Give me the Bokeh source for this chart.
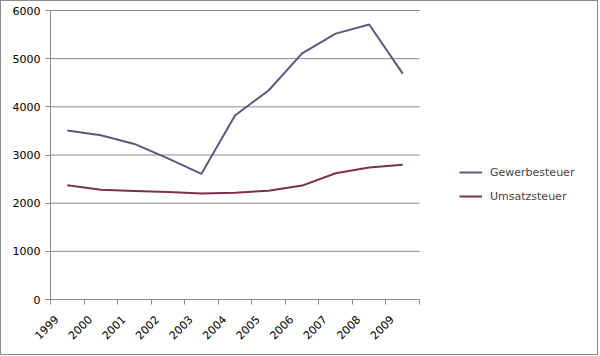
import math
from bokeh.plotting import figure
from bokeh.models import FixedTicker, CustomJSTickFormatter, Legend, LegendItem, Range1d
from bokeh.embed import file_html
from bokeh.resources import INLINE

years = ["1999", "2000", "2001", "2002", "2003", "2004", "2005", "2006", "2007", "2008", "2009"]
gewerbesteuer = [3510, 3410, 3230, 2930, 2610, 3820, 4340, 5110, 5520, 5710, 4690]
umsatzsteuer = [2370, 2280, 2255, 2230, 2200, 2215, 2260, 2365, 2620, 2740, 2800]
y_ticks = [0, 1000, 2000, 3000, 4000, 5000, 6000]

GRID = "#8a8a8a"
FONT = "DejaVu Sans"

n = len(years)
xs = list(range(n))

# plot frame spans the full width; the data area uses the left part (like Excel's plot area)
W, H = 598, 355
left, top, bottom = 49, 7, 57
data_px = 369.0                     # width of the category area in pixels
frame_w = W - left
x_end = -0.5 + n * frame_w / data_px
y_top = 6000 + 2 * 6000 / 289.0     # 2px headroom so the top grid line is not clipped

p = figure(width=W, height=H, output_backend="svg", toolbar_location=None,
           x_range=Range1d(-0.5, x_end), y_range=Range1d(0, y_top),
           min_border_left=left, min_border_top=top, min_border_bottom=bottom, min_border_right=0)
p.outline_line_color = None
p.background_fill_color = "white"
p.border_fill_color = "white"
p.styles = {"border": "1px solid #8a8a8a"}

# horizontal grid lines limited to the category area
grid_y = [v for v in y_ticks if v > 0]
p.segment(x0=[-0.5] * len(grid_y), x1=[n - 0.5] * len(grid_y), y0=grid_y, y1=grid_y,
          line_color=GRID, line_width=1)

r1 = p.line(xs, gewerbesteuer, line_color="#5a5a7e", line_width=2)
r2 = p.line(xs, umsatzsteuer, line_color="#7c2f52", line_width=2)

# x axis
shift = 0.32
p.xaxis.ticker = FixedTicker(ticks=[i - shift for i in xs],
                             minor_ticks=[i - 0.5 for i in range(n + 1)])
p.xaxis.formatter = CustomJSTickFormatter(args=dict(labels=years, shift=shift),
                                          code="return labels[Math.round(tick + shift)]")
p.xaxis.bounds = (-0.5, n - 0.5)
p.xaxis.major_tick_out = 0
p.xaxis.major_tick_in = 0
p.xaxis.minor_tick_out = 5
p.xaxis.minor_tick_in = 0
p.xaxis.minor_tick_line_color = GRID
p.xaxis.axis_line_color = GRID
p.xaxis.major_label_orientation = math.pi / 4
p.xaxis.major_label_standoff = 13
p.xaxis.major_label_text_font = FONT
p.xaxis.major_label_text_font_size = "11px"
p.xaxis.major_label_text_color = "black"

# y axis
p.yaxis.ticker = FixedTicker(ticks=y_ticks, minor_ticks=[])
p.yaxis.bounds = (0, 6000)
p.yaxis.major_tick_out = 5
p.yaxis.major_tick_in = 0
p.yaxis.major_tick_line_color = GRID
p.yaxis.axis_line_color = GRID
p.yaxis.major_label_standoff = 5
p.yaxis.major_label_text_font = FONT
p.yaxis.major_label_text_font_size = "11px"
p.yaxis.major_label_text_color = "black"

p.xgrid.grid_line_color = None
p.ygrid.grid_line_color = None

legend = Legend(items=[LegendItem(label="Gewerbesteuer", renderers=[r1]),
                       LegendItem(label="Umsatzsteuer", renderers=[r2])],
                location=(409, 93), margin=0, padding=5, spacing=4,
                glyph_width=23, glyph_height=20, label_standoff=8,
                label_text_font=FONT, label_text_font_size="11px",
                border_line_color=None, background_fill_alpha=0)
p.add_layout(legend, "center")

html = file_html(p, INLINE)
html = html.replace("<head>", "<head>\n<style>html,body{margin:0;padding:0;overflow:hidden}</style>", 1)
open("out.html", "w").write(html)
